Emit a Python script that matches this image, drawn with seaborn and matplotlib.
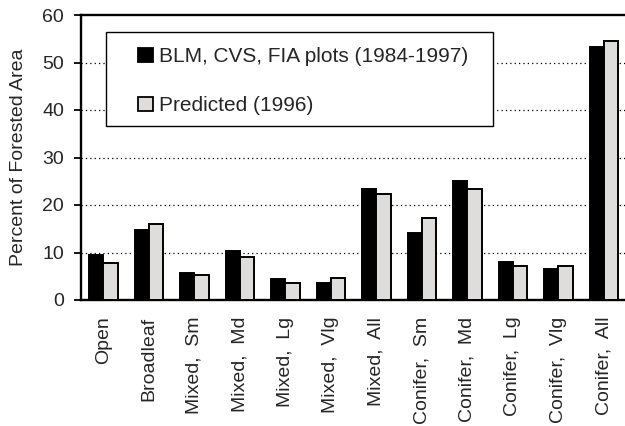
import numpy as np
import pandas as pd
import matplotlib
matplotlib.use("Agg")
import matplotlib.pyplot as plt
import seaborn as sns
from matplotlib.patches import Patch, Rectangle

categories = ["Open", "Broadleaf", "Mixed,  Sm", "Mixed,  Md", "Mixed,  Lg", "Mixed,  Vlg",
              "Mixed,  All", "Conifer,  Sm", "Conifer,  Md", "Conifer,  Lg", "Conifer,  Vlg",
              "Conifer,  All"]
observed = [9.4, 14.8, 5.6, 10.4, 4.5, 3.6, 23.4, 14.1, 25.1, 8.0, 6.5, 53.3]
predicted = [7.8, 15.9, 5.3, 9.1, 3.6, 4.6, 22.3, 17.3, 23.4, 7.1, 7.1, 54.6]
series_names = ["BLM, CVS, FIA plots (1984-1997)", "Predicted (1996)"]
yticks = [0, 10, 20, 30, 40, 50, 60]

df = pd.DataFrame({
    "category": categories * 2,
    "value": observed + predicted,
    "series": [series_names[0]] * len(categories) + [series_names[1]] * len(categories),
})

sns.set_style("white")
plt.rcParams['font.family'] = ['Liberation Sans', 'DejaVu Sans']
FS = 14

fig = plt.figure(figsize=(6.25, 4.26), dpi=100)
ax = fig.add_axes([80.7 / 625, 1 - 300 / 426, (626.7 - 80.7) / 625, 285 / 426])

colors = ["#000000", "#E0DDDB"]
sns.barplot(data=df, x="category", y="value", hue="series", order=categories,
            hue_order=series_names, palette=colors, width=0.62, gap=0,
            edgecolor="black", linewidth=1.4, ax=ax, legend=False, zorder=3)

ax.set_xlim(-0.5, len(categories) - 0.5)
ax.set_ylim(0, 60)
ax.set_yticks(yticks)
ax.set_yticklabels([str(t) for t in yticks], fontsize=FS)
for y in yticks[1:-1]:
    ax.axhline(y, color="black", linestyle=(0, (1, 2.5)), linewidth=0.9, zorder=1)

ax.set_xticks(range(len(categories)))
ax.set_xticklabels(categories, rotation=90, fontsize=FS, va="top", ha="center")
ax.set_xticks(np.arange(-0.5, len(categories), 1), minor=True)
ax.tick_params(axis="x", which="major", length=0, pad=12)
ax.tick_params(axis="x", which="minor", length=5, width=1.3, color="black", direction="out")
ax.tick_params(axis="y", length=5, width=1.3, color="black", direction="out", pad=7, left=True)
ax.set_xlabel("")
ax.set_ylabel("Percent of Forested Area", fontsize=FS, labelpad=11)

for side in ["left", "bottom", "top", "right"]:
    ax.spines[side].set_visible(True)
    ax.spines[side].set_color("black")
    ax.spines[side].set_linewidth(1.7)

# legend frame
ax.add_patch(Rectangle((0.046, 0.611), 0.71, 0.329, transform=ax.transAxes,
                       facecolor="white", edgecolor="black", linewidth=1.0, zorder=4))

handles = [Patch(facecolor=colors[0], edgecolor="black", linewidth=1.3),
           Patch(facecolor=colors[1], edgecolor="black", linewidth=1.3)]
leg = ax.legend(handles, series_names, loc="upper left",
                bbox_to_anchor=(0.105, 0.887), frameon=False,
                fontsize=15, handlelength=0.7, handleheight=0.7,
                handletextpad=0.3, labelspacing=1.45, borderpad=0,
                borderaxespad=0)
leg.set_zorder(5)

fig.savefig("out.png", dpi=100)
